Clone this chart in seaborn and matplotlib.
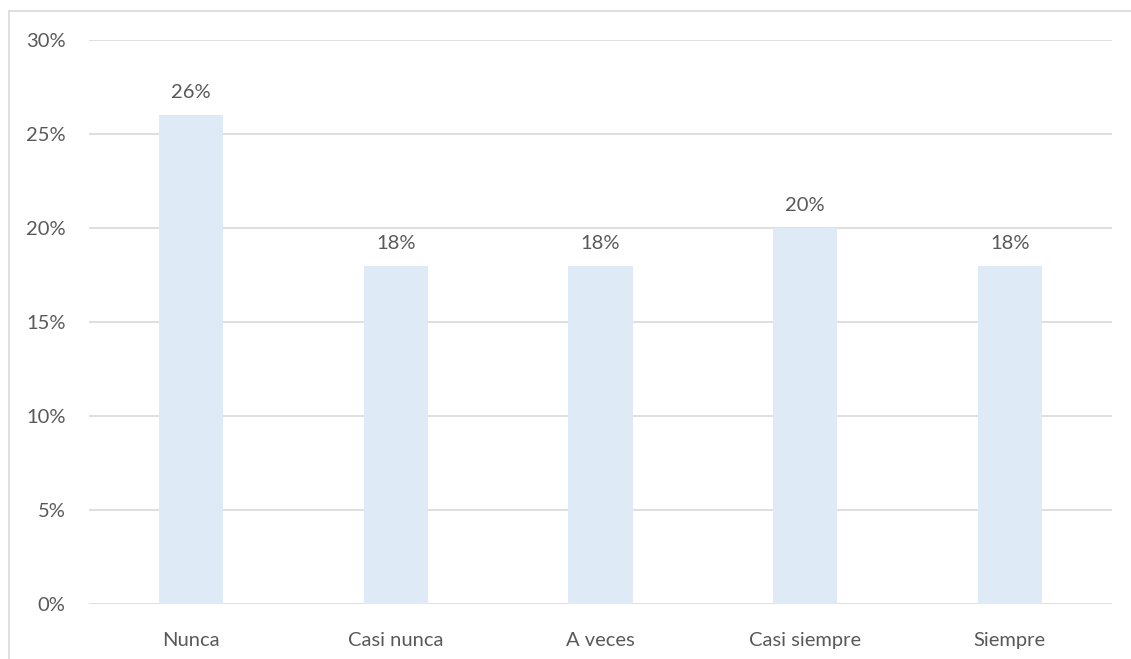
import matplotlib
matplotlib.use("Agg")
import matplotlib.pyplot as plt
from matplotlib.lines import Line2D
import seaborn as sns
import pandas as pd

categories = ["Nunca", "Casi nunca", "A veces", "Casi siempre", "Siempre"]
values = [0.26, 0.18, 0.18, 0.20, 0.18]
ytick_values = [0, 0.05, 0.10, 0.15, 0.20, 0.25, 0.30]
ytick_labels = ["0%", "5%", "10%", "15%", "20%", "25%", "30%"]

sns.set_theme(style="white")
plt.rcParams["font.family"] = ["Lato", "DejaVu Sans"]

text_color = "#595959"
grid_color = "#D9D9D9"
bar_color = "#DEEAF6"

df = pd.DataFrame({"categoria": categories, "valor": values})

fig = plt.figure(figsize=(11.31, 6.59), dpi=100)
ax = fig.add_axes([89 / 1131, 1 - 604 / 659, (1112 - 89) / 1131, (604 - 40) / 659])

sns.barplot(data=df, x="categoria", y="valor", color=bar_color, width=0.313,
            saturation=1, linewidth=0, edgecolor="none", ax=ax, zorder=3)

ax.set_ylim(0, 0.30)
ax.set_xlim(-0.5, len(categories) - 0.5)
ax.set_yticks(ytick_values)
ax.set_yticklabels(ytick_labels)
ax.yaxis.grid(True, color=grid_color, linewidth=1.2, zorder=0)
ax.set_axisbelow(True)
for s in ax.spines.values():
    s.set_visible(False)
ax.set_xlabel("")
ax.set_ylabel("")
ax.tick_params(axis="both", length=0, labelsize=14.5, colors=text_color)
ax.tick_params(axis="y", pad=17)
ax.tick_params(axis="x", pad=20)

for i, v in enumerate(values):
    ax.annotate(f"{v * 100:.0f}%", (i, v), xytext=(0, 10), textcoords="offset points",
                ha="center", va="bottom", fontsize=14.5, color=text_color)

# outer chart frame: only its left and top edges fall inside the canvas
x0 = 8.5 / 1131
y0 = 1 - 10.5 / 659
fig.add_artist(Line2D([x0, 1.0], [y0, y0], transform=fig.transFigure,
                      color=grid_color, linewidth=1.2))
fig.add_artist(Line2D([x0, x0], [0.0, y0], transform=fig.transFigure,
                      color=grid_color, linewidth=1.2))

fig.savefig("out.png", dpi=100, facecolor="white")
